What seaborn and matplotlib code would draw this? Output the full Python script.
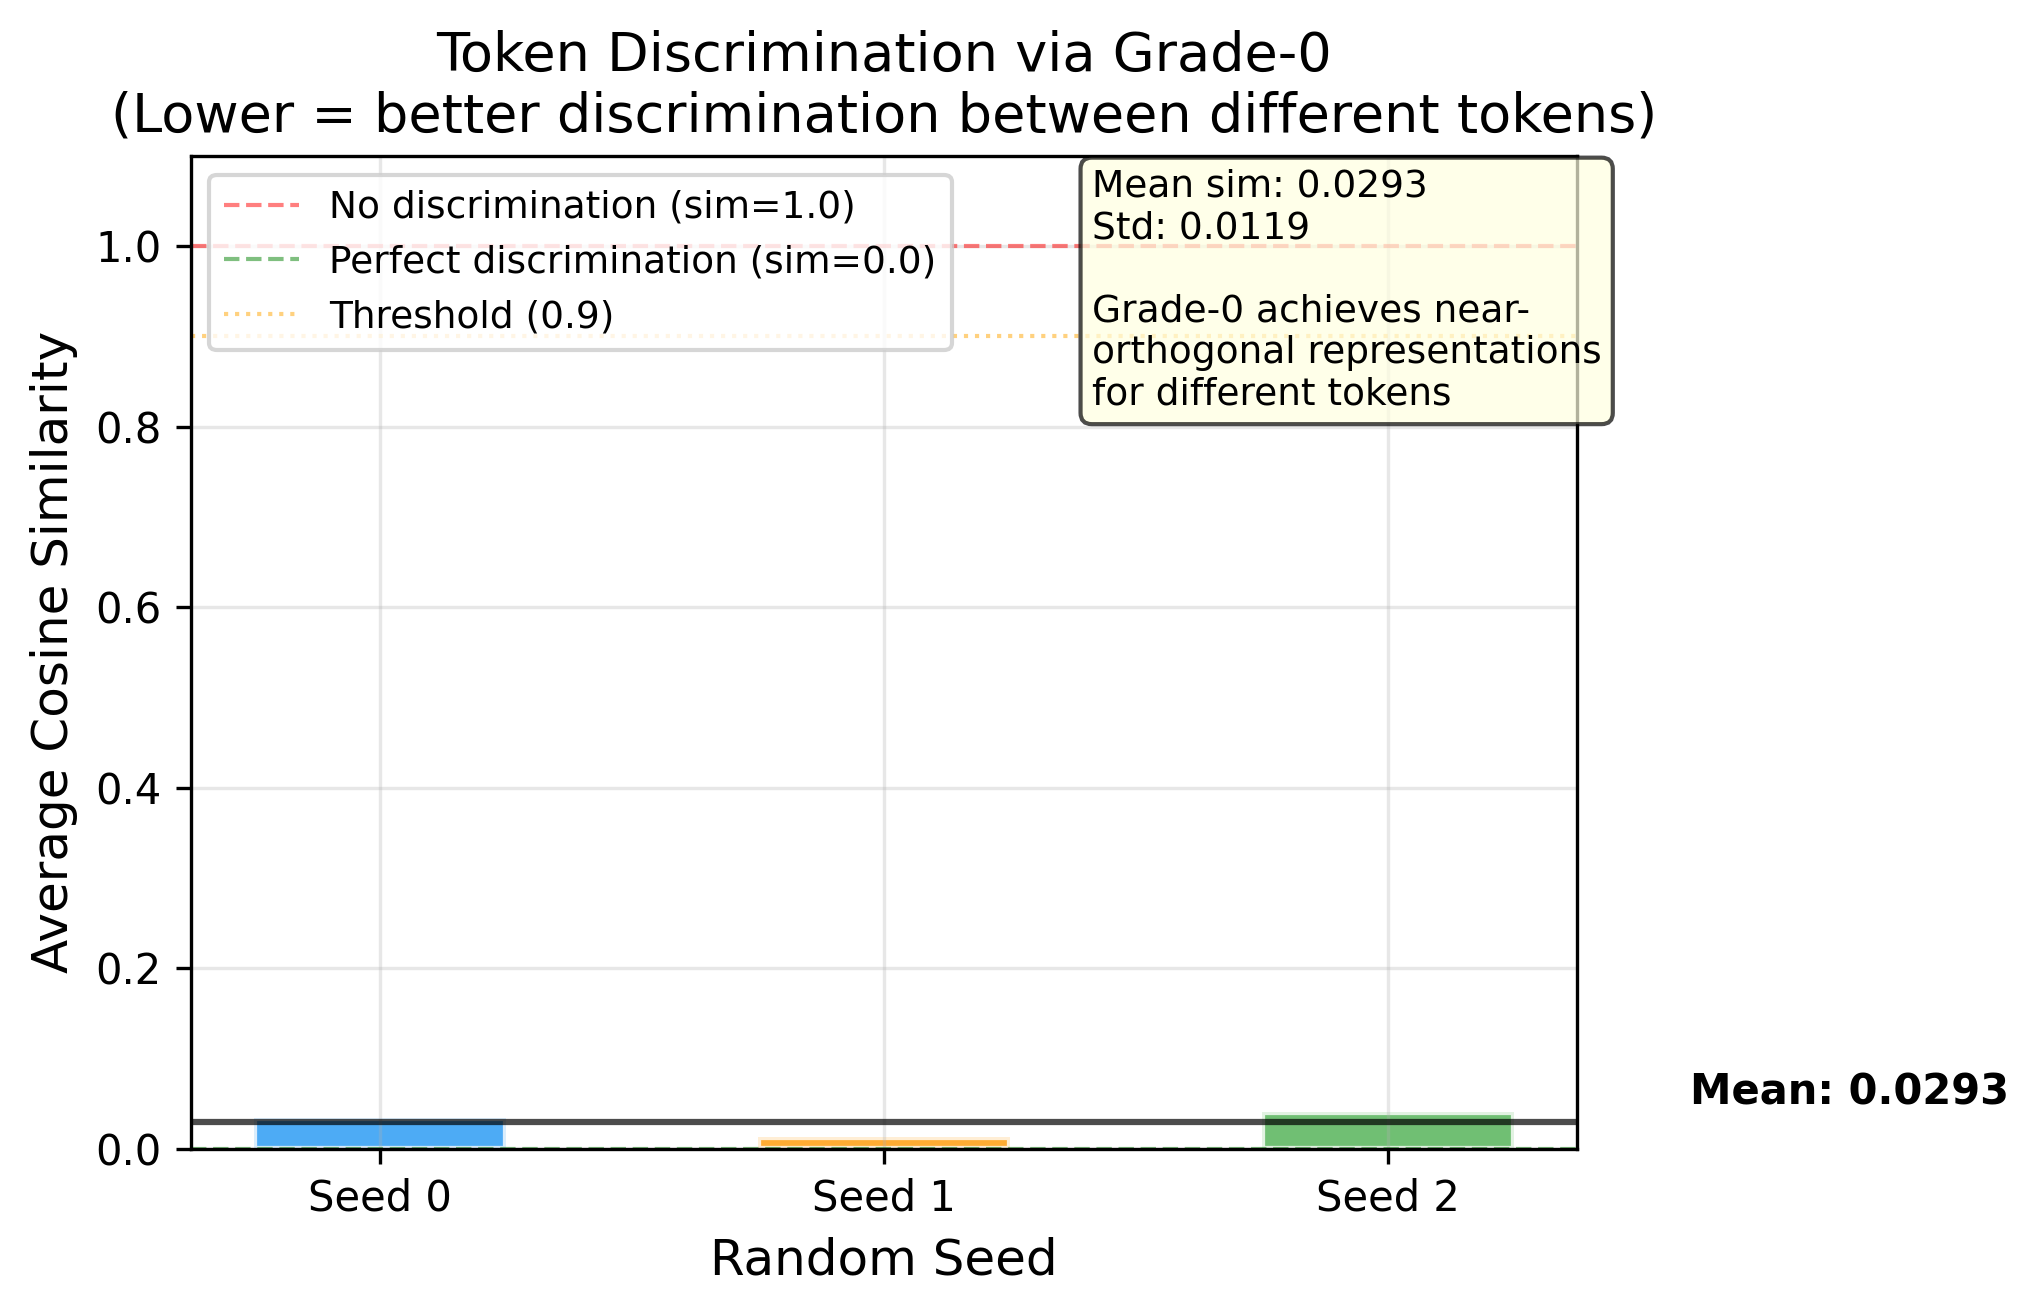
import matplotlib
matplotlib.use("Agg")
import matplotlib.pyplot as plt
import seaborn as sns
import numpy as np
import pandas as pd

seeds = ["Seed 0", "Seed 1", "Seed 2"]
similarities = [0.0343, 0.0130, 0.0406]
bar_colors = ["#2196F3", "#FF9800", "#4CAF50"]
mean_sim = 0.0293
std_sim = 0.0119
ref_levels = [1.0, 0.0, 0.9]
ref_labels = ["No discrimination (sim=1.0)", "Perfect discrimination (sim=0.0)", "Threshold (0.9)"]
ref_colors = ["red", "green", "orange"]
ref_styles = ["--", "--", ":"]

plt.rcParams['font.family'] = ['DejaVu Sans']

df = pd.DataFrame({"seed": seeds, "sim": similarities})

fig = plt.figure(figsize=(6.8, 4.38), dpi=300)
ax = fig.add_axes([190.7 / 2040, 1 - 1148.5 / 1314, (1577 - 190.7) / 2040, (1148.5 - 156) / 1314])

sns.barplot(data=df, x="seed", y="sim", hue="seed", palette=bar_colors, saturation=1,
            alpha=0.8, width=0.5, edgecolor="white", linewidth=1.5, legend=False, ax=ax)

for lvl, lab, col, ls in zip(ref_levels, ref_labels, ref_colors, ref_styles):
    ax.axhline(lvl, color=col, linestyle=ls, alpha=0.5, linewidth=1, label=lab)

ax.axhline(mean_sim, color="black", linestyle="-", linewidth=1.5, alpha=0.7)
ax.text(2.6, mean_sim + 0.01, f"Mean: {mean_sim:.4f}", fontsize=10, fontweight="bold",
        va="bottom", ha="left")

ax.set_xlim(-0.375, 2.375)
ax.set_ylim(0, 1.1)
ax.set_yticks([0.0, 0.2, 0.4, 0.6, 0.8, 1.0])
ax.grid(True, alpha=0.3)
ax.set_xlabel("Random Seed", fontsize=12)
ax.set_ylabel("Average Cosine Similarity", fontsize=12)
ax.set_title("Token Discrimination via Grade-0\n(Lower = better discrimination between different tokens)",
             fontsize=13)
ax.legend(loc="upper left", fontsize=9)

box_text = (f"Mean sim: {mean_sim:.4f}\nStd: {std_sim:.4f}\n\n"
            "Grade-0 achieves near-\northogonal representations\nfor different tokens")
ax.text(0.65, 0.987, box_text, transform=ax.transAxes, va="top", ha="left", fontsize=9,
        bbox=dict(boxstyle="round", facecolor="lightyellow", alpha=0.7))

fig.savefig("out.png", dpi=300)
